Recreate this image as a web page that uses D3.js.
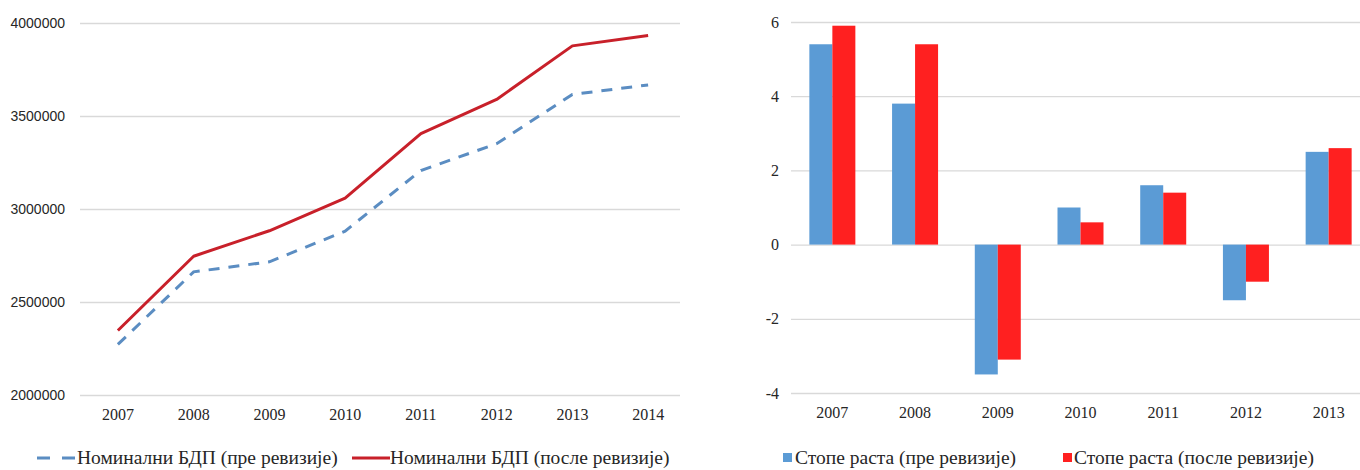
<!DOCTYPE html>
<html>
<head>
<meta charset="utf-8">
<script src="https://cdn.jsdelivr.net/npm/d3@7"></script>
<style>
  html, body { margin: 0; padding: 0; background: #fff; }
  svg { display: block; }
</style>
</head>
<body>
<svg id="chart" width="1360" height="470"></svg>
<script>
// ---- Data ----
const lineYears = ["2007","2008","2009","2010","2011","2012","2013","2014"];
const gdpBefore = [2272000, 2662000, 2716000, 2881000, 3207000, 3351000, 3616000, 3667000];
const gdpAfter  = [2347000, 2746000, 2883000, 3059000, 3405000, 3589000, 3877000, 3933000];
const gdpTicks  = [2000000, 2500000, 3000000, 3500000, 4000000];
const lineLegend = ["Номинални БДП (пре ревизије)", "Номинални БДП (после ревизије)"];

const barYears = ["2007","2008","2009","2010","2011","2012","2013"];
const growthBefore = [5.4, 3.8, -3.5, 1.0, 1.6, -1.5, 2.5];
const growthAfter  = [5.9, 5.4, -3.1, 0.6, 1.4, -1.0, 2.6];
const growthTicks  = [-4, -2, 0, 2, 4, 6];
const barLegend = ["Стопе раста (пре ревизије)", "Стопе раста (после ревизије)"];

const svg = d3.select("#chart");
const serif = "'Liberation Serif', 'Times New Roman', serif";
const sans = "'Liberation Sans', Arial, sans-serif";
const gridColor = "#d9d9d9";
const textColor = "#262626";
const legendBaseline = 464;
const legendSize = 19.5;

// ================= LEFT: line chart =================
{
  const x = d3.scaleBand().domain(lineYears).range([80, 686]).padding(0);
  const y = d3.scaleLinear().domain([2000000, 4000000]).range([395, 23]);
  const g = svg.append("g");

  const yAxis = d3.axisLeft(y).tickValues(gdpTicks).tickSize(-600).tickPadding(14)
    .tickFormat(d => String(d));
  const ya = g.append("g").attr("transform", "translate(80,0)").call(yAxis);
  ya.select(".domain").remove();
  ya.selectAll(".tick line").attr("stroke", gridColor).attr("stroke-width", 1.3);
  ya.selectAll(".tick text").attr("font-family", sans).attr("font-size", 14)
    .attr("fill", textColor).attr("x", -15).attr("text-anchor", "end");

  const xAxis = d3.axisBottom(x).tickSize(0).tickPadding(10);
  const xa = g.append("g").attr("transform", "translate(0,395)").call(xAxis);
  xa.select(".domain").remove();
  xa.selectAll(".tick text").attr("font-family", serif).attr("font-size", 16)
    .attr("fill", textColor).attr("dy", "0.95em");

  const line = d3.line()
    .x((d, i) => x(lineYears[i]) + x.bandwidth() / 2)
    .y(d => y(d));

  g.append("path").datum(gdpBefore).attr("d", line)
    .attr("fill", "none").attr("stroke", "#5b8dc2").attr("stroke-width", 3)
    .attr("stroke-dasharray", "11,9");
  g.append("path").datum(gdpAfter).attr("d", line)
    .attr("fill", "none").attr("stroke", "#c8202a").attr("stroke-width", 3)
    .attr("stroke-linejoin", "round");

  // legend
  const ly = legendBaseline - 6;
  const lg = g.append("g");
  lg.append("line").attr("x1", 37).attr("x2", 76).attr("y1", ly).attr("y2", ly)
    .attr("stroke", "#5b8dc2").attr("stroke-width", 3).attr("stroke-dasharray", "13,12");
  lg.append("text").attr("x", 77).attr("y", legendBaseline)
    .attr("font-family", serif).attr("font-size", legendSize).attr("fill", textColor)
    .text(lineLegend[0]);
  lg.append("line").attr("x1", 352).attr("x2", 390).attr("y1", ly).attr("y2", ly)
    .attr("stroke", "#c8202a").attr("stroke-width", 3);
  lg.append("text").attr("x", 390).attr("y", legendBaseline)
    .attr("font-family", serif).attr("font-size", legendSize).attr("fill", textColor)
    .text(lineLegend[1]);
}

// ================= RIGHT: bar chart =================
{
  const x = d3.scaleBand().domain(barYears).range([791, 1370]).padding(0);
  const y = d3.scaleLinear().domain([-4, 6]).range([393, 22]);
  const g = svg.append("g");

  const yAxis = d3.axisLeft(y).tickValues(growthTicks).tickSize(-570).tickPadding(12)
    .tickFormat(d => String(d));
  const ya = g.append("g").attr("transform", "translate(791,0)").call(yAxis);
  ya.select(".domain").remove();
  ya.selectAll(".tick line").attr("stroke", gridColor).attr("stroke-width", 1.3);
  ya.selectAll(".tick text").attr("font-family", serif).attr("font-size", 16)
    .attr("fill", textColor).attr("x", -12).attr("text-anchor", "end");

  const xAxis = d3.axisBottom(x).tickSize(0).tickPadding(10);
  const xa = g.append("g").attr("transform", "translate(0,393)").call(xAxis);
  xa.select(".domain").remove();
  xa.selectAll(".tick text").attr("font-family", serif).attr("font-size", 16)
    .attr("fill", textColor).attr("dy", "0.95em");

  const sub = d3.scaleBand().domain(["before", "after"])
    .range([x.bandwidth() / 2 - 23, x.bandwidth() / 2 + 23]).padding(0);
  const series = [
    { key: "before", values: growthBefore, color: "#5b9bd5" },
    { key: "after", values: growthAfter, color: "#ff2020" }
  ];
  series.forEach(s => {
    g.selectAll(null).data(s.values).enter().append("rect")
      .attr("x", (d, i) => x(barYears[i]) + sub(s.key))
      .attr("width", sub.bandwidth())
      .attr("y", d => y(Math.max(0, d)))
      .attr("height", d => Math.abs(y(d) - y(0)))
      .attr("fill", s.color);
  });

  // legend
  const lg = g.append("g");
  lg.append("rect").attr("x", 783).attr("y", legendBaseline - 11).attr("width", 9).attr("height", 9)
    .attr("fill", "#5b9bd5");
  lg.append("text").attr("x", 795).attr("y", legendBaseline)
    .attr("font-family", serif).attr("font-size", legendSize).attr("fill", textColor)
    .text(barLegend[0]);
  lg.append("rect").attr("x", 1063).attr("y", legendBaseline - 11).attr("width", 9).attr("height", 9)
    .attr("fill", "#ff2020");
  lg.append("text").attr("x", 1074).attr("y", legendBaseline)
    .attr("font-family", serif).attr("font-size", legendSize).attr("fill", textColor)
    .text(barLegend[1]);
}
</script>
</body>
</html>
